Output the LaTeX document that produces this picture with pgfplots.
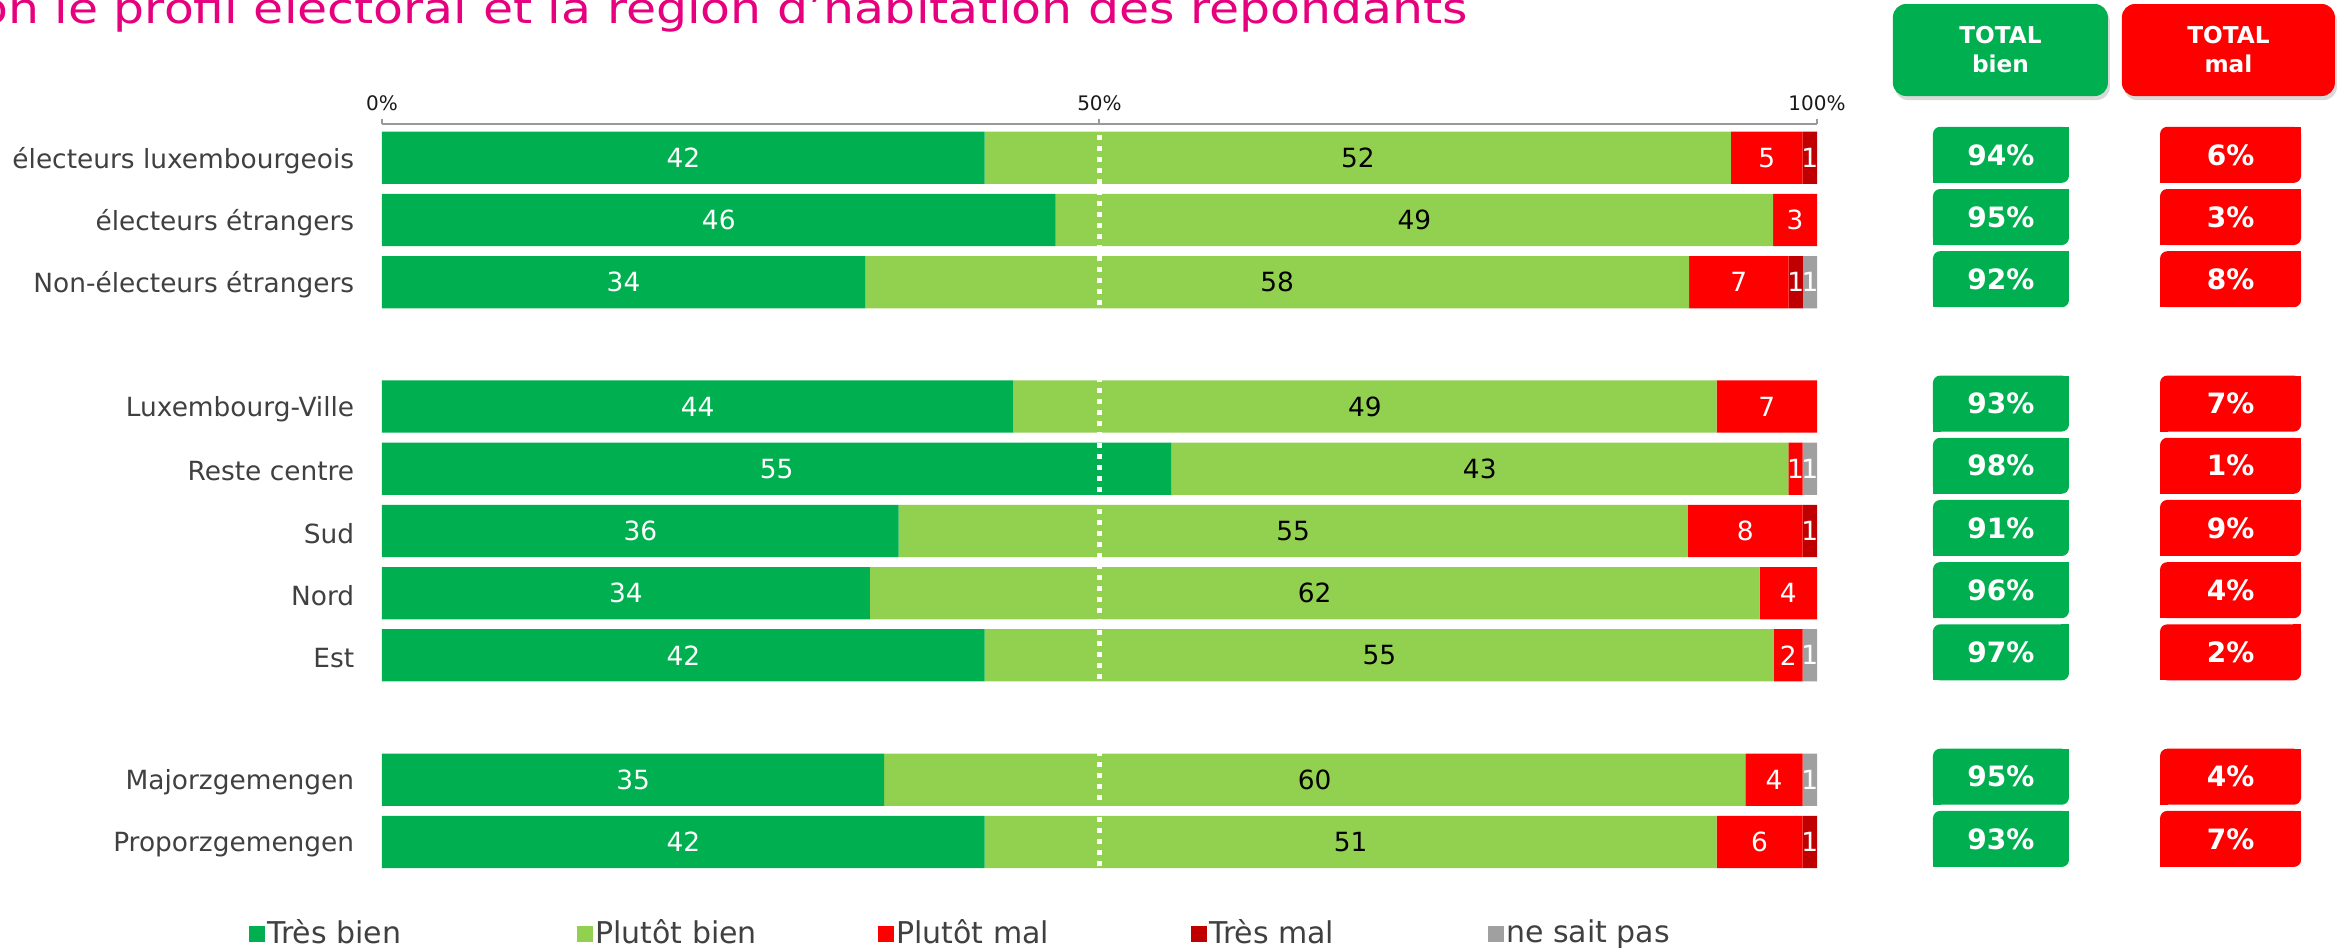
\documentclass[border=0pt]{standalone}
\usepackage{fontspec}
\setmainfont{DejaVu Sans}
\usepackage{pgfplots}
\usepackage{pgfplotstable}
\pgfplotsset{compat=1.18}
\usetikzlibrary{shadows}
\definecolor{tb}{HTML}{00B050}
\definecolor{pb}{HTML}{92D050}
\definecolor{pm}{HTML}{FF0000}
\definecolor{tm}{HTML}{C00000}
\definecolor{ns}{HTML}{A0A0A0}
\definecolor{labc}{HTML}{404040}
\definecolor{titlec}{HTML}{E6007E}
\definecolor{axc}{HTML}{999999}

\pgfplotstableread{
y  tb    pb    pm   tm   ns   ltb lpb lpm ltm lns totb totm
11 42    52    5    1    0    42  52  5   1   {}  94   6
10 46.94 50.00 3.06 0    0    46  49  3   {}  {}  95   3
9  33.66 57.43 6.93 0.99 0.99 34  58  7   1   1   92   8
7  44    49    7    0    0    44  49  7   {}  {}  93   7
6  55    43    1    0    1    55  43  1   {}  1   98   1
5  36    55    8    1    0    36  55  8   1   {}  91   9
4  34    62    4    0    0    34  62  4   {}  {}  96   4
3  42    55    2    0    1    42  55  2   {}  1   97   2
1  35    60    4    0    1    35  60  4   {}  1   95   4
0  42    51    6    1    0    42  51  6   1   {}  93   7
}\data

\tikzset{
  totbox/.style={anchor=center, fill=#1, text=white,
    font=\bfseries\fontsize{7pt}{8pt}\selectfont,
    minimum height=14pt, inner sep=0pt, outer sep=0pt, rounded corners=1.8pt,
    append after command={\pgfextra{%
      \fill[#1, sharp corners] (\tikzlastnode.north east) rectangle ([shift={(-2pt,-2pt)}]\tikzlastnode.north east);
      \fill[#1, sharp corners] (\tikzlastnode.south west) rectangle ([shift={(2pt,2pt)}]\tikzlastnode.south west);}}},
  headbox/.style={fill=#1, text=white, rounded corners=3.3pt,
    font=\bfseries\fontsize{5.8pt}{7.25pt}\selectfont, align=center,
    drop shadow={shadow xshift=0.5pt, shadow yshift=-1pt, opacity=0.3}},
}

\begin{document}
\begin{tikzpicture}
\useasboundingbox (0pt,0pt) rectangle (584.75pt,236.75pt);

\node[anchor=base east, text=titlec, font=\fontsize{10.5pt}{12pt}\selectfont, xscale=1.165, inner sep=0pt]
  at (367.25pt,231pt) {selon le profil électoral et la région d\symbol{39}habitation des répondants};

\node[headbox=tb, minimum width=53.75pt, minimum height=23pt] at (500.1pt,224.25pt) {TOTAL\\bien};
\node[headbox=pm, minimum width=53.25pt, minimum height=23pt] at (557.1pt,224.25pt) {TOTAL\\mal};

\begin{axis}[
  at={(95.5pt,18.5pt)}, anchor=south west,
  scale only axis, width=358.75pt, height=187.3pt,
  xbar stacked, bar width=0.84,
  xmin=0, xmax=100, ymin=-0.5, ymax=11.547,
  enlargelimits=false, clip=false,
  axis x line*=top, axis y line*=left,
  y axis line style={draw=none},
  x axis line style={draw=axc, line width=0.5pt},
  xtick={0,50,100}, xticklabels={0\%,50\%,100\%},
  xtick style={draw=axc, line width=0.5pt},
  major tick length=1.25pt, tick align=outside,
  xticklabel style={font=\fontsize{5pt}{6pt}\selectfont, text=black!90, inner sep=0pt, anchor=base, yshift=2.0pt},
  ytick={0,1,3,4,5,6,7,9,10,11},
  yticklabels={Proporzgemengen,Majorzgemengen,Est,Nord,Sud,Reste centre,Luxembourg-Ville,Non-électeurs étrangers,électeurs étrangers,électeurs luxembourgeois},
  ytick style={draw=none},
  yticklabel style={font=\fontsize{6.6pt}{8pt}\selectfont, text=labc, inner sep=0pt, xshift=-5.5pt, yshift=-0.6pt},
  nodes near coords,
  point meta=explicit symbolic,
  every node near coord/.append style={anchor=center, inner sep=0pt,
     font=\fontsize{6.6pt}{8pt}\selectfont},
  legend style={at={(-0.0934,-0.082)}, anchor=west, draw=none, fill=none, inner sep=0pt,
     font=\fontsize{7.5pt}{9pt}\selectfont, text=labc,
     nodes={inner xsep=0.6pt},
     /tikz/every even column/.append style={column sep=0pt}},
  legend columns=5,
  legend image code/.code={\fill[#1] (0pt,-2pt) rectangle (4pt,2pt);},
]
\addplot[fill=tb, draw=none, every node near coord/.append style={text=white}] table[x=tb, y=y, meta=ltb] {\data};
\addplot[fill=pb, draw=none, every node near coord/.append style={text=black}] table[x=pb, y=y, meta=lpb] {\data};
\addplot[fill=pm, draw=none, every node near coord/.append style={text=white}] table[x=pm, y=y, meta=lpm] {\data};
\addplot[fill=tm, draw=none, every node near coord/.append style={text=white}] table[x=tm, y=y, meta=ltm] {\data};
\addplot[fill=ns, draw=none, every node near coord/.append style={text=white}] table[x=ns, y=y, meta=lns] {\data};
\addlegendentry{\makebox[76.8pt][l]{Très bien}}
\addlegendentry{\makebox[70.05pt][l]{Plutôt bien}}
\addlegendentry{\makebox[73.05pt][l]{Plutôt mal}}
\addlegendentry{\makebox[69.05pt][l]{Très mal}}
\addlegendentry{ne sait pas}
\end{axis}

\begin{axis}[
  at={(95.5pt,18.5pt)}, anchor=south west,
  scale only axis, width=358.75pt, height=187.3pt,
  xmin=0, xmax=100, ymin=-0.5, ymax=11.547,
  hide axis, clip=false,
  point meta=explicit symbolic,
]
\addplot[white, line width=1.2pt, dash pattern=on 1.25pt off 1.5pt, mark=none] coordinates {(50,11.37) (50,-0.42)};
\addplot[draw=none, mark=none, nodes near coords={\pgfplotspointmeta\%}, every node near coord/.append style={totbox=tb, minimum width=34pt, yshift=0.75pt}]
  table[x expr=112.82, y=y, meta=totb] {\data};
\addplot[draw=none, mark=none, nodes near coords={\pgfplotspointmeta\%}, every node near coord/.append style={totbox=pm, minimum width=35.25pt, yshift=0.75pt}]
  table[x expr=128.82, y=y, meta=totm] {\data};
\end{axis}
\end{tikzpicture}
\end{document}
